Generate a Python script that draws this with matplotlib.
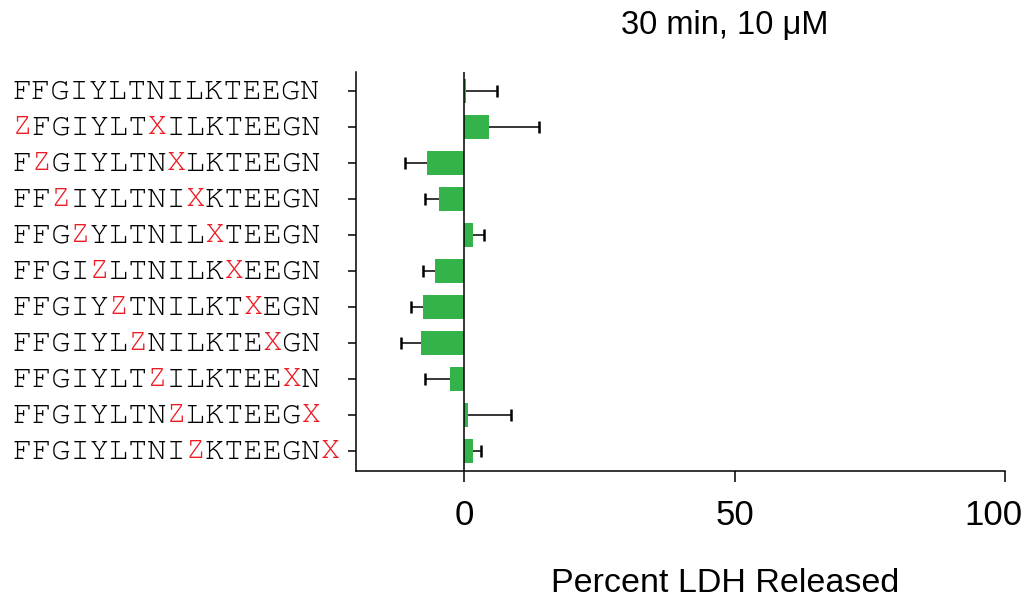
import numpy as np
import matplotlib
matplotlib.use('Agg')
import matplotlib.pyplot as plt
from matplotlib.transforms import blended_transform_factory

# peptide sequences, Z and X are the substituted positions (drawn red)
peptides = ['FFGIYLTNILKTEEGN',
            'ZFGIYLTXILKTEEGN',
            'FZGIYLTNXLKTEEGN',
            'FFZIYLTNIXKTEEGN',
            'FFGZYLTNILXTEEGN',
            'FFGIZLTNILKXEEGN',
            'FFGIYZTNILKTXEGN',
            'FFGIYLZNILKTEXGN',
            'FFGIYLTZILKTEEXN',
            'FFGIYLTNZLKTEEGX',
            'FFGIYLTNIZKTEEGNX']
ldh = [0.4, 4.6, -6.9, -4.7, 1.7, -5.4, -7.6, -8.0, -2.6, 0.8, 1.6]
ldh_err = [5.6, 9.2, 4.1, 2.6, 2.0, 2.3, 2.2, 3.7, 4.7, 7.8, 1.5]
xticks = [0, 50, 100]

green = '#33B34A'
red = '#ED1C24'
mono = ['FreeMono', 'Liberation Mono']

fig = plt.figure(figsize=(10.26, 6.03), dpi=100)
ax = fig.add_axes([356/1026, 132/603, 649/1026, 399/603])

y = np.arange(len(peptides))
ax.barh(y, ldh, height=0.67, color=green, zorder=2)
ax.axvline(0, color='black', lw=1.1, zorder=3)

# one sided error bars (away from zero)
vals = np.array(ldh)
ends = vals + np.sign(vals) * np.array(ldh_err)
ax.hlines(y, vals, ends, color='black', lw=1.1, zorder=3)
ax.plot(ends, y, ls='none', marker='|', ms=9, mew=1.8, color='black', zorder=3)

ax.set_xlim(-20, 100)
ax.set_ylim(10.55, -0.53)
ax.set_xticks(xticks)
# last label is nudged left so it stays inside the figure
ax.set_xticklabels([str(t) for t in xticks[:-1]] + [''], fontsize=25, family='Liberation Sans')
ax.annotate(str(xticks[-1]), xy=(xticks[-1], 0), xycoords=('data', 'axes fraction'),
            xytext=(-8.3, -20), textcoords='offset points', ha='center', va='top',
            fontsize=25, family='Liberation Sans')
ax.set_yticks(y)
ax.set_yticklabels([])
ax.tick_params(axis='x', length=8, width=1.1, pad=12)
ax.tick_params(axis='y', length=6, width=1.1)
for s in ['top', 'right']:
    ax.spines[s].set_visible(False)
for s in ['left', 'bottom']:
    ax.spines[s].set_linewidth(1.1)

trans = blended_transform_factory(fig.transFigure, ax.transData)
for i, p in enumerate(peptides):
    black = ''.join(c if c not in 'ZX' else ' ' for c in p)
    reds = ''.join(c if c in 'ZX' else ' ' for c in p)
    ax.text(13/1026, i, black, transform=trans, family=mono,
            fontsize=23, color='black', ha='left', va='center')
    ax.text(13/1026, i, reds, transform=trans, family=mono,
            fontsize=23, color=red, ha='left', va='center')

fig.text(725/1026, 1 - 25/603, '30 min, 10 \u03bcM', ha='center', va='center',
         fontsize=23.5, family='Liberation Sans')
fig.text(725/1026, 1 - 584/603, 'Percent LDH Released', ha='center', va='center',
         fontsize=24.5, family='Liberation Sans')

fig.savefig('out.png', dpi=100)
